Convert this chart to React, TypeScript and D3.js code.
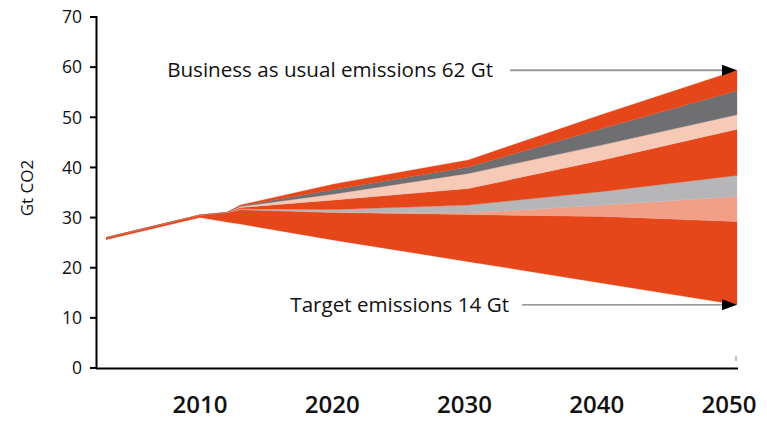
import React from "react";
import * as d3 from "d3";

const years = [2003, 2010, 2012, 2013, 2020, 2030, 2040, 2050];
const targetFloor = [25.6, 30.0, 29.1, 28.7, 25.5, 21.2, 16.9, 12.6];
const wedgeBase = [0.4, 0.5, 1.9, 2.9, 5.5, 9.4, 13.3, 16.6];
const wedgeSalmon = [0, 0, 0, 0, 0.05, 0.3, 2.3, 5.0];
const wedgeLightGray = [0, 0, 0, 0.15, 0.55, 1.6, 2.7, 4.2];
const wedgeRed = [0, 0, 0, 0.25, 1.9, 3.3, 6.3, 9.2];
const wedgePink = [0, 0, 0, 0.2, 1.2, 3.0, 3.0, 2.9];
const wedgeDarkGray = [0, 0, 0, 0.15, 0.9, 1.3, 3.3, 4.8];
const wedgeTop = [0, 0, 0, 0.15, 1.1, 1.4, 2.8, 4.1];

const yTicks = [0, 10, 20, 30, 40, 50, 60, 70];
const xTickYears = [2010, 2020, 2030, 2040, 2050];
const businessLabel = "Business as usual emissions 62 Gt";
const targetLabel = "Target emissions 14 Gt";
const yAxisTitle = "Gt CO2";

const RED = "#E5461A";
const keys = ["floor", "base", "salmon", "lightgray", "red", "pink", "darkgray", "top"];
const colors: Record<string, string> = {
  base: RED,
  salmon: "#F19F87",
  lightgray: "#B6B6B8",
  red: RED,
  pink: "#F7C9B7",
  darkgray: "#6F6F71",
  top: RED,
};

const rows = years.map((yr, i) => ({
  year: yr,
  floor: targetFloor[i],
  base: wedgeBase[i],
  salmon: wedgeSalmon[i],
  lightgray: wedgeLightGray[i],
  red: wedgeRed[i],
  pink: wedgePink[i],
  darkgray: wedgeDarkGray[i],
  top: wedgeTop[i],
}));

export default function App() {
  const W = 767;
  const H = 421;
  const x = d3.scaleLinear().domain([2003, 2050]).range([106, 737]);
  const xLabel = d3.scaleLinear().domain([2010, 2050]).range([200, 729]);
  const y = d3.scaleLinear().domain([0, 70]).range([368, 17]);

  const series = d3.stack<any>().keys(keys)(rows);
  const area = d3
    .area<any>()
    .x((d) => x(d.data.year))
    .y0((d) => y(d[0]))
    .y1((d) => y(d[1]));

  const last = series[series.length - 1];
  const topEnd = last[last.length - 1][1];
  const floorEnd = series[0][series[0].length - 1][1];
  const xEnd = x(years[years.length - 1]);
  const font = "'Open Sans', 'Noto Sans', sans-serif";

  return (
    <div style={{ position: "absolute", left: 0, top: 0, width: W, height: H, background: "#fff" }}>
      <svg width={W} height={H} style={{ display: "block" }}>
        {series
          .filter((s) => s.key !== "floor")
          .map((s) => (
            <path key={s.key} d={area(s as any) || ""} fill={colors[s.key]} stroke={colors[s.key]} strokeWidth={0.3} />
          ))}

        {/* axes */}
        <line x1={96.5} x2={96.5} y1={16} y2={369} stroke="#000" strokeWidth={2} />
        <line x1={96} x2={738} y1={368.5} y2={368.5} stroke="#000" strokeWidth={2} />
        {yTicks.map((t) => (
          <g key={t}>
            <line x1={90} x2={96} y1={y(t)} y2={y(t)} stroke="#000" strokeWidth={2} />
            <text x={82} y={y(t)} dy="0.36em" textAnchor="end" fontFamily={font} fontSize={17.5} fontWeight={500} fill="#111">
              {t}
            </text>
          </g>
        ))}
        <text
          transform={`translate(33,${188}) rotate(-90)`}
          textAnchor="middle"
          fontFamily={font}
          fontSize={17}
          fill="#111"
        >
          {yAxisTitle}
        </text>
        {xTickYears.map((t) => (
          <text key={t} x={xLabel(t)} y={413} textAnchor="middle" fontFamily={font} fontSize={24} fontWeight={600} fill="#111">
            {t}
          </text>
        ))}
        <line x1={736} x2={736} y1={356} y2={361} stroke="#aaa" strokeWidth={1.5} />

        {/* annotations */}
        <line x1={510} x2={xEnd - 12} y1={y(topEnd)} y2={y(topEnd)} stroke="#9a9a9a" strokeWidth={2} />
        <path d={`M${xEnd},${y(topEnd)} L${xEnd - 15},${y(topEnd) - 5.5} L${xEnd - 15},${y(topEnd) + 5.5} Z`} fill="#000" />
        <text x={493} y={y(topEnd)} dy="0.35em" textAnchor="end" fontFamily={font} fontSize={20.6} fill="#111">
          {businessLabel}
        </text>

        <line x1={522} x2={xEnd - 12} y1={y(floorEnd)} y2={y(floorEnd)} stroke="#777" strokeWidth={1.2} />
        <path d={`M${xEnd},${y(floorEnd)} L${xEnd - 15},${y(floorEnd) - 5.5} L${xEnd - 15},${y(floorEnd) + 5.5} Z`} fill="#000" />
        <text x={509} y={y(floorEnd)} dy="0.35em" textAnchor="end" fontFamily={font} fontSize={20.6} fill="#111">
          {targetLabel}
        </text>
      </svg>
    </div>
  );
}
